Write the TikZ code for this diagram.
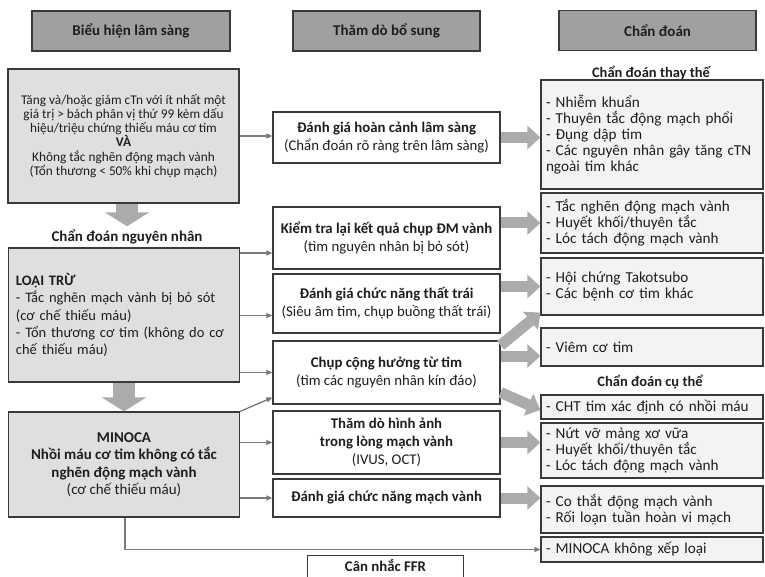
\documentclass[tikz,border=0pt]{standalone}
\usepackage{fontspec}
\setmainfont{Carlito}
\usepackage{xcolor}
\usepackage{tikz}
\usetikzlibrary{arrows.meta}
\definecolor{headgray}{HTML}{A0A0A0}
\definecolor{leftgray}{HTML}{DFDFDF}
\definecolor{rightgray}{HTML}{F3F3F3}
\definecolor{arrowgray}{HTML}{ABABAB}
\definecolor{linegray}{HTML}{7A7A7A}
\definecolor{edgegray}{HTML}{3A3A3A}
\definecolor{inkgray}{HTML}{1E1E1E}

\begin{document}
\begin{tikzpicture}[x=1pt,y=-1pt,text=inkgray,
    head/.style={draw=edgegray,fill=headgray,line width=1.2pt,minimum height=40pt,font=\fontsize{15}{17}\selectfont\bfseries},
    leftbox/.style={draw=edgegray,fill=leftgray,line width=1.2pt,minimum width=231pt,inner sep=0pt},
    midbox/.style={draw=edgegray,fill=white,line width=1.2pt,minimum width=227pt,inner sep=0pt,align=center,font=\fontsize{14.8}{18}\selectfont},
    rightbox/.style={draw=edgegray,fill=rightgray,line width=1.2pt,minimum width=222pt,inner sep=0pt,text width=212pt,align=left,font=\fontsize{15.2}{16}\selectfont},
    caption/.style={font=\fontsize{14.5}{17}\selectfont\bfseries},
    link/.style={draw=linegray,line width=1.3pt,-{Triangle[length=6pt,width=5pt]}},
    bigarrow/.style={draw=arrowgray,line width=11pt,-{Triangle[length=13pt,width=23pt]}},
    downarrow/.style={draw=arrowgray,line width=22pt,-{Triangle[length=14pt,width=44pt]}}]
    \useasboundingbox (0,0) rectangle (765,577);
    \clip (0,0) rectangle (765,577);
    % column heads
    \node[head,minimum width=198pt] (h1) at (131,31) {Biểu hiện lâm sàng};
    \node[head,minimum width=187pt] (h2) at (386.5,31) {Thăm dò bổ sung};
    \node[head,minimum width=197pt] (h3) at (657.5,30.5) {Chẩn đoán};
    % left column
    \node[leftbox,minimum height=134pt,align=center,font=\fontsize{13.3}{14.3}\selectfont] (b1) at (123.5,136)
      {Tăng và/hoặc giảm cTn với ít nhất một\\ giá trị > bách phân vị thứ 99 kèm dấu\\ hiệu/triệu chứng thiếu máu cơ tim\\ \textbf{VÀ}\\ Không tắc nghẽn động mạch vành\\ (Tổn thương < 50\% khi chụp mạch)};
    \node[caption,font=\fontsize{15}{17}\selectfont\bfseries] (cause) at (127,237) {Chẩn đoán nguyên nhân};
    \node[leftbox,minimum height=134pt,text width=216pt,align=left,font=\fontsize{14.5}{17.3}\selectfont] (lt) at (124,315)
      {\textbf{LOẠI TRỪ}\\ \makebox[216pt][s]{- Tắc nghẽn mạch vành bị bỏ sót}\\ (cơ chế thiếu máu)\\ \makebox[216pt][s]{- Tổn thương cơ tim (không do cơ}\\ chế thiếu máu)};
    \node[leftbox,minimum height=105pt,align=center,font=\fontsize{15}{17.3}\selectfont] (mn) at (124,464.5)
      {\textbf{MINOCA}\\ \textbf{Nhồi máu cơ tim không có tắc}\\ \textbf{nghẽn động mạch vành}\\ (cơ chế thiếu máu)};
    % middle column
    \node[midbox,minimum height=51pt] (m1) at (386.5,137.5) {\textbf{Đánh giá hoàn cảnh lâm sàng}\\ (Chẩn đoán rõ ràng trên lâm sàng)};
    \node[midbox,minimum height=62pt] (m2) at (386.5,238) {\textbf{Kiểm tra lại kết quả chụp ĐM vành}\\ (tìm nguyên nhân bị bỏ sót)};
    \node[midbox,minimum height=59pt] (m3) at (386.5,303.5) {\textbf{Đánh giá chức năng thất trái}\\ (Siêu âm tim, chụp buồng thất trái)};
    \node[midbox,minimum height=63pt] (m4) at (386.5,372.5) {\textbf{Chụp cộng hưởng từ tim}\\ (tìm các nguyên nhân kín đáo)};
    \node[midbox,minimum height=63pt] (m5) at (386.5,442.5) {\textbf{Thăm dò hình ảnh}\\ \textbf{trong lòng mạch vành}\\ (IVUS, OCT)};
    \node[midbox,minimum height=38pt] (m6) at (386.5,498) {\textbf{Đánh giá chức năng mạch vành}};
    % FFR box runs off the bottom edge
    \node[font=\fontsize{14.8}{18}\selectfont\bfseries,minimum width=155pt,minimum height=20pt,inner sep=0pt] (ffr) at (385.5,566) {Cân nhắc FFR};
    \draw[edgegray,line width=1.2pt] ([yshift=-14]ffr.south west) |- (ffr.north east) -- ([yshift=-14]ffr.south east);
    % right column
    \node[caption] (alt) at (651,73) {Chẩn đoán thay thế};
    \node[rightbox,minimum height=109pt] (ra) at (652,134.5) {- Nhiễm khuẩn\\ - Thuyên tắc động mạch phổi\\ - Đụng dập tim\\ - Các nguyên nhân gây tăng cTN\\ ngoài tim khác};
    \node[rightbox,minimum height=60pt] (rb) at (652,223) {- Tắc nghẽn động mạch vành\\ - Huyết khối/thuyên tắc\\ - Lóc tách động mạch vành};
    \node[rightbox,minimum height=57pt] (rc) at (652,286.5) {- Hội chứng Takotsubo\\ - Các bệnh cơ tim khác};
    \node[rightbox,minimum height=38pt] (rd) at (652,347) {- Viêm cơ tim};
    \node[caption] (spec) at (650,382) {Chẩn đoán cụ thể};
    \node[rightbox,minimum height=24pt] (re) at (652,407) {- CHT tim xác định có nhồi máu};
    \node[rightbox,minimum height=55pt] (rf) at (652,450.5) {- Nứt vỡ mảng xơ vữa\\ - Huyết khối/thuyên tắc\\ - Lóc tách động mạch vành};
    \node[rightbox,minimum height=47pt] (rg) at (652,509.5) {- Co thắt động mạch vành\\ - Rối loạn tuần hoàn vi mạch};
    \node[rightbox,minimum height=25pt] (rh) at (652,549.5) {- MINOCA không xếp loại};
    % down arrows
    \draw[downarrow] (b1.south -| cause.north) -- (cause.north);
    \draw[downarrow] (lt.south) -- (mn.north);
    % thin connectors
    \draw[link] (b1.east) -- (b1.east -| m1.west);
    \draw[link] ([yshift=-15]m2.west -| lt.east) -- ([yshift=-15]m2.west);
    \draw[link] ([yshift=-12]m3.west -| lt.east) -- ([yshift=-12]m3.west);
    \draw[link] (m4.west -| lt.east) -- (m4.west);
    \draw[link] (mn.north east) -- ([yshift=-25]m4.west);
    \draw[link] (m5.west -| mn.east) -- (m5.west);
    \draw[link] (m6.west -| mn.east) -- (m6.west);
    \draw[link] ([xshift=1]mn.south) |- (rh.west);
    % thick connectors
    \draw[bigarrow] (m1.east) -- (m1.east -| ra.west);
    \draw[bigarrow] (rb.west -| m2.east) -- (rb.west);
    \draw[bigarrow] (rc.west -| m3.east) -- (rc.west);
    \draw[bigarrow] ([yshift=-5]m4.north east) -- ([yshift=3]rc.south west);
    \draw[bigarrow] ([yshift=-9]rd.west -| m4.east) -- ([yshift=-9]rd.west);
    \draw[bigarrow] ([yshift=-20]m4.east) -- ([yshift=-3]re.west);
    \draw[bigarrow] (m5.east) -- (m5.east -| rf.west);
    \draw[bigarrow] (m6.east) -- (m6.east -| rg.west);
  \end{tikzpicture}
\end{document}
